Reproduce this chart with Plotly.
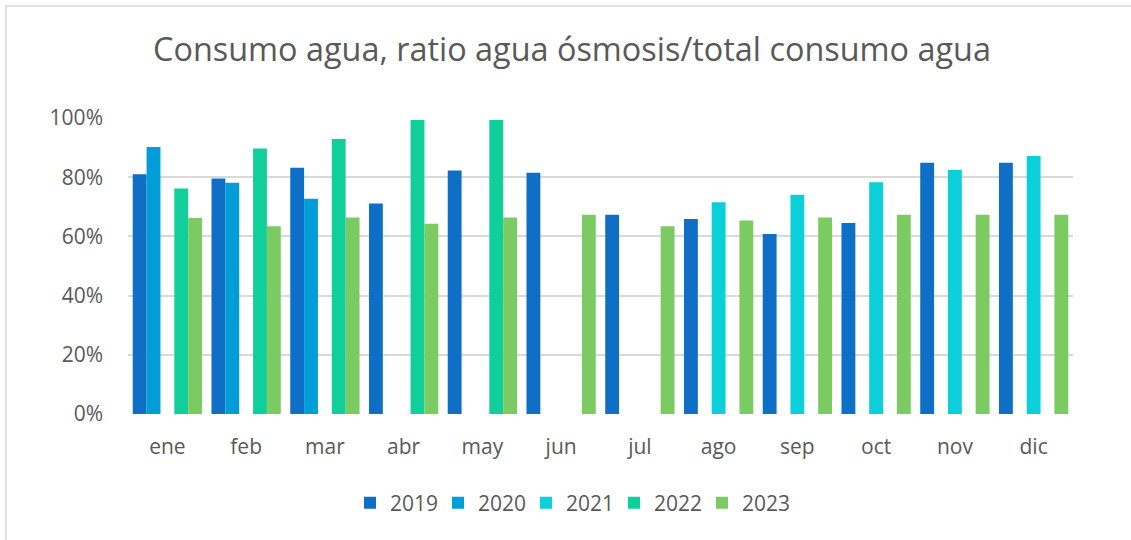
import plotly.graph_objects as go

months = ["ene", "feb", "mar", "abr", "may", "jun", "jul", "ago", "sep", "oct", "nov", "dic"]
years = ["2019", "2020", "2021", "2022", "2023"]

v2019 = [0.810, 0.796, 0.832, 0.711, 0.823, 0.815, 0.673, 0.659, 0.608, 0.645, 0.849, 0.849]
v2020 = [0.902, 0.781, 0.727, None, None, None, None, None, None, None, None, None]
v2021 = [None, None, None, None, None, None, None, 0.715, 0.741, 0.783, 0.824, 0.872]
v2022 = [0.762, 0.897, 0.929, 0.993, 0.993, None, None, None, None, None, None, None]
v2023 = [0.662, 0.634, 0.664, 0.643, 0.664, 0.673, 0.634, 0.654, 0.664, 0.673, 0.673, 0.673]

series = [v2019, v2020, v2021, v2022, v2023]
colors = ["#0F6FC6", "#009DD9", "#0BD0D9", "#10CF9B", "#7CCA62"]

W, H = 1131, 540
L, R, T, B = 128, 58, 118, 126
pw, ph = W - L - R, H - T - B

fig = go.Figure()
for name, vals, col in zip(years, series, colors):
    fig.add_trace(go.Bar(x=months, y=vals, name=name, marker=dict(color=col, line=dict(width=0))))

fig.update_layout(
    width=W, height=H,
    margin=dict(l=L, r=R, t=T, b=B, autoexpand=False),
    paper_bgcolor="white", plot_bgcolor="white",
    barmode="group", bargap=0.12, bargroupgap=0,
    font=dict(family="Open Sans", color="#595959"),
    title=dict(text="Consumo agua, ratio agua ósmosis/total consumo agua",
               x=572 / W, xref="container", xanchor="center", y=1 - 50 / H, yanchor="middle",
               font=dict(size=32.4, color="#595959", family="Open Sans")),
    legend=dict(orientation="h", x=(570 - L) / pw, xanchor="center", xref="paper",
                y=-(503 - (T + ph)) / ph, yanchor="middle",
                font=dict(size=21, color="#595959"), traceorder="normal",
                entrywidth=43, itemwidth=30),
    showlegend=True,
    shapes=[dict(type="rect", xref="paper", yref="paper",
                 x0=(6 - L) / pw, x1=(W + 10 - L) / pw,
                 y0=-(H + 10 - T - ph) / ph, y1=(T + ph - 6) / ph,
                 line=dict(color="#D9D9D9", width=1.5), fillcolor="rgba(0,0,0,0)", layer="below")],
)
fig.update_yaxes(range=[0, 1.0], dtick=0.2, tickformat=".0%", showgrid=True,
                 gridcolor="#D9D9D9", gridwidth=1.5, zeroline=False, showline=False,
                 tickfont=dict(size=21, color="#595959"), ticklabelstandoff=24, automargin=False)
fig.update_xaxes(showgrid=False, showline=False, zeroline=False, tickangle=0,
                 tickfont=dict(size=21, color="#595959"), ticklabelstandoff=18, automargin=False)

fig.write_html("out.html", config={"displayModeBar": False},
               post_script="document.body.style.margin='0';")
